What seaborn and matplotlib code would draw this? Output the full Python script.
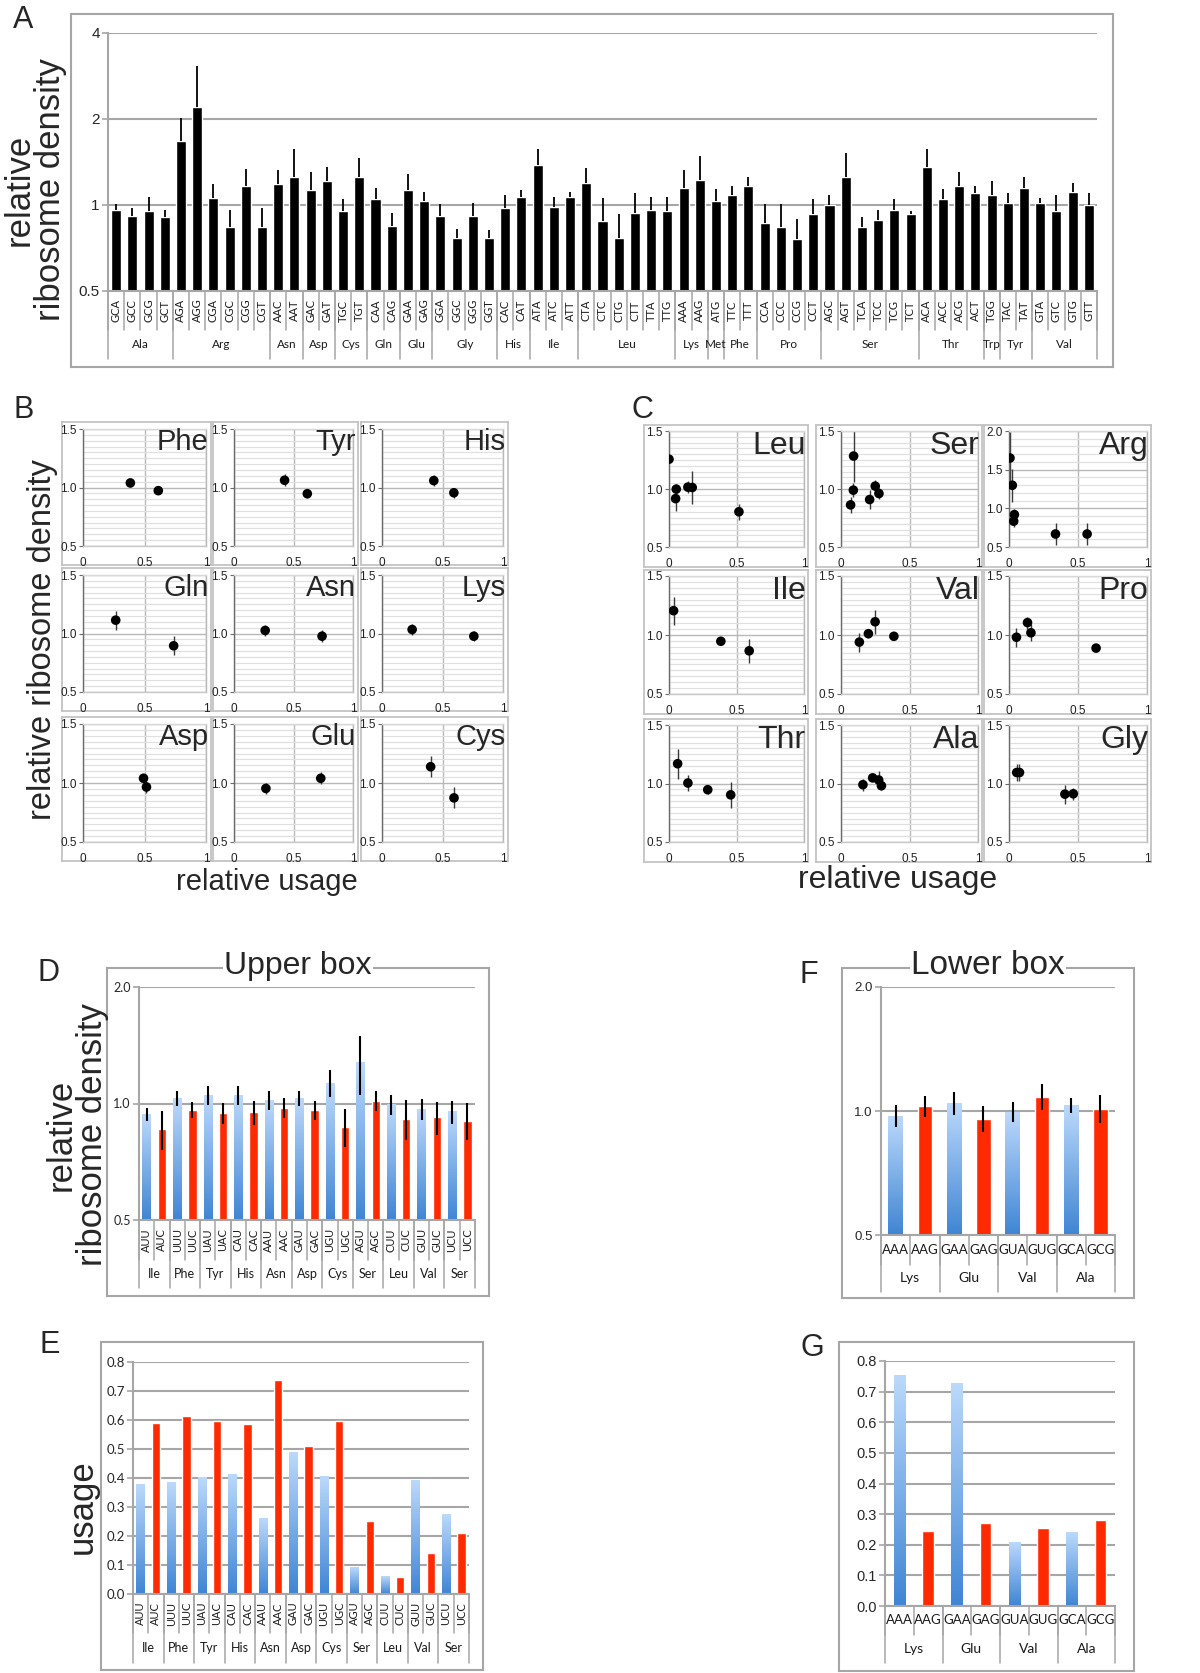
import numpy as np
import pandas as pd
import seaborn as sns
import matplotlib
matplotlib.use('Agg')
import matplotlib.pyplot as plt
from matplotlib.colors import LinearSegmentedColormap
from matplotlib.ticker import MultipleLocator, NullLocator
from matplotlib.transforms import blended_transform_factory

# ---------------- panel A: all sense codons ----------------
codons_a = ['GCA', 'GCC', 'GCG', 'GCT', 'AGA', 'AGG', 'CGA', 'CGC', 'CGG', 'CGT',
            'AAC', 'AAT', 'GAC', 'GAT', 'TGC', 'TGT', 'CAA', 'CAG', 'GAA', 'GAG',
            'GGA', 'GGC', 'GGG', 'GGT', 'CAC', 'CAT', 'ATA', 'ATC', 'ATT',
            'CTA', 'CTC', 'CTG', 'CTT', 'TTA', 'TTG', 'AAA', 'AAG', 'ATG', 'TTC', 'TTT',
            'CCA', 'CCC', 'CCG', 'CCT', 'AGC', 'AGT', 'TCA', 'TCC', 'TCG', 'TCT',
            'ACA', 'ACC', 'ACG', 'ACT', 'TGG', 'TAC', 'TAT', 'GTA', 'GTC', 'GTG', 'GTT']
groups_a = ['Ala', 'Arg', 'Asn', 'Asp', 'Cys', 'Gln', 'Glu', 'Gly', 'His', 'Ile',
            'Leu', 'Lys', 'Met', 'Phe', 'Pro', 'Ser', 'Thr', 'Trp', 'Tyr', 'Val']
group_sizes_a = [4, 6, 2, 2, 2, 2, 2, 4, 2, 3, 6, 2, 1, 2, 4, 6, 4, 1, 2, 4]
density_a = [0.963, 0.918, 0.953, 0.908, 1.67, 2.2, 1.06, 0.835, 1.165, 0.835,
             1.18, 1.25, 1.125, 1.21, 0.953, 1.25, 1.047, 0.845, 1.125, 1.035,
             0.918, 0.769, 0.918, 0.769, 0.976, 1.07, 1.38, 0.987, 1.07,
             1.19, 0.877, 0.769, 0.94, 0.963, 0.953, 1.15, 1.22, 1.035, 1.087, 1.165,
             0.865, 0.835, 0.758, 0.93, 1.0, 1.25, 0.835, 0.886, 0.963, 0.93,
             1.36, 1.047, 1.165, 1.1, 1.087, 1.02, 1.15, 1.02, 0.953, 1.11, 1.0]
err_a = [0.047, 0.055, 0.117, 0.055, 0.35, 0.87, 0.12, 0.128, 0.175, 0.138,
         0.15, 0.32, 0.175, 0.15, 0.094, 0.21, 0.103, 0.095, 0.155, 0.075,
         0.092, 0.055, 0.102, 0.046, 0.104, 0.055, 0.19, 0.083, 0.04,
         0.16, 0.183, 0.161, 0.16, 0.107, 0.117, 0.18, 0.26, 0.105, 0.078, 0.085,
         0.145, 0.175, 0.138, 0.117, 0.087, 0.27, 0.073, 0.077, 0.084, 0.023,
         0.21, 0.093, 0.135, 0.065, 0.123, 0.08, 0.1, 0.04, 0.134, 0.08, 0.1]

# ---------------- panel B: two-codon amino acids ----------------
names_b = ['Phe', 'Tyr', 'His', 'Gln', 'Asn', 'Lys', 'Asp', 'Glu', 'Cys']
usage_b = [[0.385, 0.612], [0.425, 0.616], [0.428, 0.594],
           [0.266, 0.737], [0.262, 0.74], [0.249, 0.759],
           [0.492, 0.516], [0.268, 0.729], [0.402, 0.595]]
density_b = [[1.039, 0.973], [1.062, 0.947], [1.059, 0.955],
             [1.114, 0.895], [1.026, 0.977], [1.034, 0.977],
             [1.04, 0.966], [0.954, 1.04], [1.138, 0.874]]
err_b = [[0.035, 0.03], [0.05, 0.04], [0.05, 0.045],
         [0.08, 0.08], [0.05, 0.05], [0.045, 0.045],
         [0.04, 0.05], [0.05, 0.05], [0.09, 0.09]]

# ---------------- panel C: 3-6 codon amino acids ----------------
names_c = ['Leu', 'Ser', 'Arg', 'Ile', 'Val', 'Pro', 'Thr', 'Ala', 'Gly']
usage_c = [[0.0, 0.054, 0.049, 0.14, 0.172, 0.518],
           [0.092, 0.09, 0.07, 0.209, 0.25, 0.277],
           [0.007, 0.024, 0.039, 0.034, 0.337, 0.566],
           [0.034, 0.384, 0.594],
           [0.134, 0.2, 0.249, 0.386],
           [0.054, 0.134, 0.159, 0.631],
           [0.064, 0.14, 0.287, 0.457],
           [0.16, 0.231, 0.275, 0.295],
           [0.056, 0.076, 0.405, 0.466]]
density_c = [[1.257, 0.999, 0.917, 1.016, 1.013, 0.804],
             [1.284, 0.99, 0.863, 0.909, 1.025, 0.961],
             [1.651, 1.298, 0.919, 0.834, 0.668, 0.668],
             [1.206, 0.947, 0.866],
             [0.94, 1.011, 1.112, 0.989],
             [0.981, 1.105, 1.019, 0.889],
             [1.169, 1.004, 0.947, 0.903],
             [0.99, 1.048, 1.03, 0.981],
             [1.094, 1.094, 0.909, 0.912]]
err_c = [[0.03, 0.04, 0.11, 0.05, 0.14, 0.07],
         [0.22, 0.06, 0.07, 0.08, 0.05, 0.05],
         [0.33, 0.21, 0.07, 0.07, 0.14, 0.14],
         [0.12, 0.02, 0.1],
         [0.08, 0.04, 0.1, 0.03],
         [0.08, 0.05, 0.07, 0.02],
         [0.13, 0.07, 0.04, 0.11],
         [0.05, 0.03, 0.08, 0.04],
         [0.07, 0.07, 0.08, 0.05]]
ymax_c = [1.5, 1.5, 2.0, 1.5, 1.5, 1.5, 1.5, 1.5, 1.5]

# ---------------- panels D / E: upper box ----------------
codons_up = ['AUU', 'AUC', 'UUU', 'UUC', 'UAU', 'UAC', 'CAU', 'CAC', 'AAU', 'AAC', 'GAU',
             'GAC', 'UGU', 'UGC', 'AGU', 'AGC', 'CUU', 'CUC', 'GUU', 'GUC', 'UCU', 'UCC']
groups_up = ['Ile', 'Phe', 'Tyr', 'His', 'Asn', 'Asp', 'Cys', 'Ser', 'Leu', 'Val', 'Ser']
density_up = [0.938, 0.858, 1.030, 0.963, 1.051, 0.944, 1.049, 0.948, 1.02, 0.976, 1.032,
              0.963, 1.127, 0.87, 1.275, 1.018, 0.992, 0.914, 0.967, 0.921, 0.951, 0.903]
err_up = [0.035, 0.1, 0.045, 0.045, 0.06, 0.06, 0.06, 0.07, 0.06, 0.06, 0.045,
          0.055, 0.09, 0.1, 0.22, 0.06, 0.06, 0.11, 0.06, 0.09, 0.065, 0.1]
usage_up = [0.379, 0.591, 0.385, 0.613, 0.401, 0.598, 0.413, 0.585, 0.261, 0.737, 0.487,
            0.512, 0.404, 0.595, 0.093, 0.251, 0.061, 0.059, 0.393, 0.14, 0.275, 0.212]

# ---------------- panels F / G: lower box ----------------
codons_low = ['AAA', 'AAG', 'GAA', 'GAG', 'GUA', 'GUG', 'GCA', 'GCG']
groups_low = ['Lys', 'Glu', 'Val', 'Ala']
density_low = [0.972, 1.026, 1.044, 0.958, 0.994, 1.084, 1.032, 1.013]
err_low = [0.06, 0.06, 0.065, 0.07, 0.055, 0.08, 0.045, 0.08]
usage_low = [0.752, 0.246, 0.728, 0.27, 0.207, 0.254, 0.24, 0.282]

W, H = 1200, 1673
GRAY = '#a6a6a6'
RED = '#ff2a00'
BLUE_GRAD = LinearSegmentedColormap.from_list('xl_blue', ['#3f85d4', '#bcd9fb'])
XL_FONT = ['Lato', 'Liberation Sans']

sns.set_theme(style='white')
plt.rcParams['font.family'] = ['Liberation Sans', 'DejaVu Sans']

fig = plt.figure(figsize=(W / 100, H / 100), dpi=100)


def px_axes(x0, y0, x1, y1):
    return fig.add_axes([x0 / W, 1 - y1 / H, (x1 - x0) / W, (y1 - y0) / H])


def frame(x0, y0, x1, y1, color=GRAY, lw=1.5):
    f = px_axes(x0, y0, x1, y1)
    f.set_zorder(-1)
    f.set_xticks([])
    f.set_yticks([])
    f.patch.set_alpha(0)
    for s in f.spines.values():
        s.set_visible(True)
        s.set_color(color)
        s.set_linewidth(lw)
    return f


def fig_text(x, y, s, **kw):
    fig.text(x / W, 1 - y / H, s, **kw)


def bar_style(ax, tick_fs, tick_font):
    for side in ['top', 'right']:
        ax.spines[side].set_visible(False)
    for side in ['left', 'bottom']:
        ax.spines[side].set_color(GRAY)
        ax.spines[side].set_linewidth(1.5)
    ax.yaxis.grid(True, color=GRAY, lw=1.5)
    ax.set_axisbelow(True)
    ax.tick_params(axis='y', left=True, length=4, width=1.2, color=GRAY, pad=2,
                   labelsize=tick_fs)
    for t in ax.get_yticklabels():
        t.set_family(tick_font)
    ax.set_xlabel('')
    ax.set_ylabel('')


def category_axis(ax, codons, groups, sizes, codon_h, group_h, rotate, codon_fs, group_fs):
    trans = blended_transform_factory(ax.transData, ax.transAxes)
    xlim = ax.get_xlim()
    ax.set_xticks([])
    for i, c in enumerate(codons):
        ax.text(i, -codon_h / 2, c, transform=trans, rotation=90 if rotate else 0,
                ha='center', va='center', fontsize=codon_fs, family=XL_FONT, color='#1a1a1a')
    for b in np.arange(len(codons) + 1) - 0.5:
        ax.plot([b, b], [0, -codon_h], transform=trans, color=GRAY, lw=1.1, clip_on=False)
    edges = np.concatenate([[0], np.cumsum(sizes)])
    for k, g in enumerate(groups):
        mid = (edges[k] + edges[k + 1] - 1) / 2
        ax.text(mid, -codon_h - group_h / 2, g, transform=trans, ha='center', va='center',
                fontsize=group_fs, family=XL_FONT, color='#1a1a1a')
    for e in edges - 0.5:
        ax.plot([e, e], [0, -codon_h - group_h], transform=trans, color=GRAY, lw=1.1,
                clip_on=False)
    ax.set_xlim(xlim)


def gradient_fill(ax, bars):
    xlim, ylim = ax.get_xlim(), ax.get_ylim()
    to_axes = ax.transData + ax.transAxes.inverted()
    grad = np.linspace(0, 1, 256).reshape(-1, 1)
    for p in bars:
        x0 = p.get_x()
        (ax0, ay0), (ax1, ay1) = to_axes.transform(
            [(x0, ylim[0]), (x0 + p.get_width(), p.get_y() + p.get_height())])
        ax.imshow(grad, cmap=BLUE_GRAD, origin='lower', aspect='auto',
                  extent=(ax0, ax1, ay0, ay1), transform=ax.transAxes,
                  interpolation='bilinear', zorder=2)
        p.set_visible(False)
    ax.set_xlim(xlim)
    ax.set_ylim(ylim)


def pair_bars(ax, codons, values, width):
    kinds = ['blue', 'red'] * (len(codons) // 2)
    df = pd.DataFrame({'codon': codons, 'value': values, 'kind': kinds})
    sns.barplot(data=df, x='codon', y='value', hue='kind', hue_order=['blue', 'red'],
                palette={'blue': '#7fb0ea', 'red': RED}, dodge=False, width=width,
                saturation=1, errorbar=None, legend=False, ax=ax, zorder=2)


# ================= A =================
frame(71, 14, 1113, 367)
axA = px_axes(108, 33, 1097, 291)
dfA = pd.DataFrame({'codon': codons_a, 'density': density_a})
sns.barplot(data=dfA, x='codon', y='density', color='black', width=0.62, saturation=1,
            errorbar=None, ax=axA, zorder=2)
axA.errorbar(np.arange(len(codons_a)), density_a, yerr=[np.zeros(len(err_a)), err_a],
             fmt='none', ecolor='black', elinewidth=1.3, capsize=0, zorder=3)
axA.set_yscale('log', base=2)
axA.set_ylim(0.5, 4)
axA.set_xlim(-0.5, len(codons_a) - 0.5)
axA.set_yticks([0.5, 1, 2, 4], ['0.5', '1', '2', '4'])
axA.yaxis.set_minor_locator(NullLocator())
bar_style(axA, 11, ['Liberation Sans'])
category_axis(axA, codons_a, groups_a, group_sizes_a, 39 / 258, 29 / 258, True, 8, 8.5)
fig_text(35, 190, 'relative\nribosome density', rotation=90, ha='center', va='center',
         fontsize=25, linespacing=0.95)
fig_text(13, 5, 'A', ha='left', va='top', fontsize=22)


# ================= B / C =================
def scatter_panel(box, margins, name, usage, density, err, ytop, label_fs):
    x0, y0, x1, y1 = box
    fr = frame(x0, y0, x1, y1, color='#c4c4c4', lw=1.3)
    l, t, r, b = margins
    ax = px_axes(x0 + l, y0 + t, x1 - r, y1 - b)
    ax.patch.set_alpha(0)
    ax.errorbar(usage, density, yerr=err, fmt='none', ecolor='#3a3a3a', elinewidth=1.0,
                capsize=0, zorder=2)
    sns.scatterplot(x=usage, y=density, color='black', s=48, edgecolor='none', ax=ax,
                    zorder=3)
    ax.set_xlim(0, 1)
    ax.set_ylim(0.5, ytop)
    ax.set_xticks([0, 0.5, 1], ['0', '0.5', '1'])
    majors = np.arange(0.5, ytop + 0.01, 0.5)
    ax.set_yticks(majors, [f'{v:.1f}' for v in majors])
    ax.yaxis.set_minor_locator(MultipleLocator(0.1 if ytop > 1.5 else 0.05))
    ax.grid(True, which='major', color='#b8b8b8', lw=1.0)
    ax.yaxis.grid(True, which='minor', color='#e0e0e0', lw=0.9)
    ax.set_axisbelow(True)
    ax.spines['left'].set_color('#6a6a6a')
    ax.spines['bottom'].set_color('#c8c8c8')
    ax.spines['top'].set_color('#d8d8d8')
    ax.spines['right'].set_color('#b8b8b8')
    for s in ax.spines.values():
        s.set_linewidth(1.0)
    ax.tick_params(axis='y', left=True, length=3, width=0.8, color='#6a6a6a', pad=1.5,
                   labelsize=8.5, labelcolor='#222222')
    ax.tick_params(axis='x', bottom=False, pad=2, labelsize=8.5, labelcolor='#222222')
    ax.set_xlabel('')
    ax.set_ylabel('')
    ax.text(0.985, 0.955, name, transform=fr.transAxes, ha='right', va='top',
            fontsize=label_fs)


cols_b = [(62, 211), (213, 358), (361, 508)]
rows_b = [(422, 565), (568, 711), (717, 861)]
for k, name in enumerate(names_b):
    (cx0, cx1), (ry0, ry1) = cols_b[k % 3], rows_b[k // 3]
    scatter_panel((cx0, ry0, cx1, ry1), (21, 7, 5, 19), name, usage_b[k], density_b[k],
                  err_b[k], 1.5, 21)

cols_c = [(644, 808), (816, 982), (984, 1151)]
rows_c = [(425, 567), (570, 714), (719, 862)]
for k, name in enumerate(names_c):
    (cx0, cx1), (ry0, ry1) = cols_c[k % 3], rows_c[k // 3]
    scatter_panel((cx0, ry0, cx1, ry1), (25, 6, 4, 20), name, usage_c[k], density_c[k],
                  err_c[k], ymax_c[k], 23)

fig_text(43, 640, 'relative ribosome density', rotation=90, ha='center', va='center',
         fontsize=23.5)
fig_text(267, 882, 'relative usage', ha='center', va='center', fontsize=21)
fig_text(898, 880, 'relative usage', ha='center', va='center', fontsize=23)
fig_text(13, 395, 'B', ha='left', va='top', fontsize=22)
fig_text(632, 395, 'C', ha='left', va='top', fontsize=22)

# ================= D =================
frame(107, 968, 489, 1296)
axD = px_axes(139, 987, 475, 1220)
pair_bars(axD, codons_up, density_up, 0.55)
axD.errorbar(np.arange(len(codons_up)), density_up, yerr=err_up, fmt='none',
             ecolor='black', elinewidth=1.5, capsize=0, zorder=3)
axD.set_yscale('log', base=2)
axD.set_ylim(0.5, 2.0)
axD.set_xlim(-0.5, len(codons_up) - 0.5)
axD.set_yticks([0.5, 1, 2], ['0.5', '1.0', '2.0'])
axD.yaxis.set_minor_locator(NullLocator())
bar_style(axD, 9, XL_FONT)
category_axis(axD, codons_up, groups_up, [2] * len(groups_up), 40 / 233, 28 / 233,
              True, 8, 9)
gradient_fill(axD, axD.containers[0])
fig_text(298, 966, 'Upper box', ha='center', va='center', fontsize=23,
         family=['Liberation Sans Narrow', 'Liberation Sans'],
         bbox=dict(fc='white', ec='none', pad=1))
fig_text(77, 1135, 'relative\nribosome density', rotation=90, ha='center', va='center',
         fontsize=25, linespacing=0.95)
fig_text(38, 958, 'D', ha='left', va='top', fontsize=22)

# ================= F =================
frame(842, 968, 1134, 1298)
axF = px_axes(881, 987, 1115, 1235)
pair_bars(axF, codons_low, density_low, 0.5)
axF.errorbar(np.arange(len(codons_low)), density_low, yerr=err_low, fmt='none',
             ecolor='black', elinewidth=1.5, capsize=0, zorder=3)
axF.set_yscale('log', base=2)
axF.set_ylim(0.5, 2.0)
axF.set_xlim(-0.5, len(codons_low) - 0.5)
axF.set_yticks([0.5, 1, 2], ['0.5', '1.0', '2.0'])
axF.yaxis.set_minor_locator(NullLocator())
bar_style(axF, 9.5, ['Liberation Sans'])
category_axis(axF, codons_low, groups_low, [2] * len(groups_low), 30 / 248, 27 / 248,
              False, 9.5, 10)
gradient_fill(axF, axF.containers[0])
fig_text(988, 966, 'Lower box', ha='center', va='center', fontsize=24,
         bbox=dict(fc='white', ec='none', pad=1))
fig_text(800, 960, 'F', ha='left', va='top', fontsize=22)

# ================= E =================
frame(101, 1342, 483, 1670)
axE = px_axes(133, 1362, 469, 1594)
pair_bars(axE, codons_up, usage_up, 0.55)
axE.set_ylim(0, 0.8)
axE.set_xlim(-0.5, len(codons_up) - 0.5)
ticks_e = np.arange(0, 0.81, 0.1)
axE.set_yticks(ticks_e, [f'{v:.1f}' for v in ticks_e])
bar_style(axE, 9.5, XL_FONT)
category_axis(axE, codons_up, groups_up, [2] * len(groups_up), 39 / 232, 30 / 232,
              True, 8, 9)
gradient_fill(axE, axE.containers[0])
fig_text(82, 1507, 'usage', rotation=90, ha='center', va='center', fontsize=25)
fig_text(39, 1330, 'E', ha='left', va='top', fontsize=22)

# ================= G =================
frame(839, 1342, 1134, 1671)
axG = px_axes(885, 1361, 1115, 1606)
pair_bars(axG, codons_low, usage_low, 0.4)
axG.set_ylim(0, 0.8)
axG.set_xlim(-0.5, len(codons_low) - 0.5)
axG.set_yticks(ticks_e, [f'{v:.1f}' for v in ticks_e])
bar_style(axG, 10.5, ['Liberation Sans'])
category_axis(axG, codons_low, groups_low, [2] * len(groups_low), 29 / 245, 28 / 245,
              False, 9.5, 10)
gradient_fill(axG, axG.containers[0])
fig_text(800, 1333, 'G', ha='left', va='top', fontsize=22)

fig.savefig('out.png', dpi=100)
